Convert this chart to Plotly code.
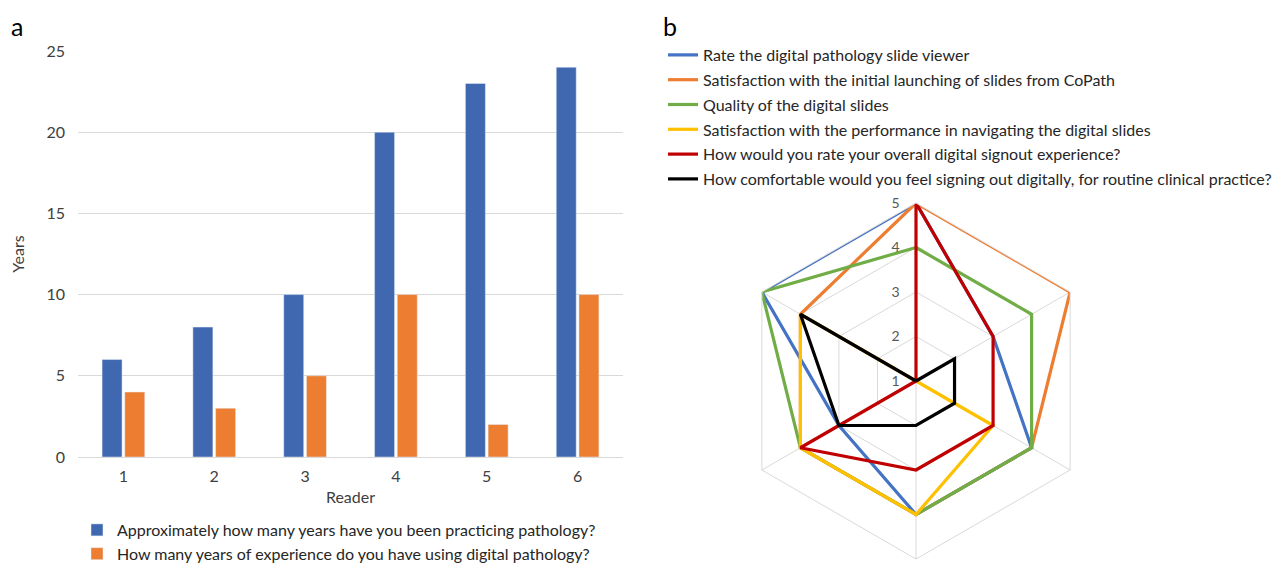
import plotly.graph_objects as go

# ---- data ----
readers = ["1", "2", "3", "4", "5", "6"]
years_practicing = [6, 8, 10, 20, 23, 24]
years_digital = [4, 3, 5, 10, 2, 10]

bar_names = [
    "Approximately how many years have you been practicing pathology?",
    "How many years of experience do you have using digital pathology?",
]

radar_axes = ["1", "2", "3", "4", "5", "6"]
rate_viewer = [5, 3, 4, 4, 3, 5]
launching = [5, 5, 4, 4, 4, 4]
quality = [4, 4, 4, 4, 4, 5]
navigating = [1, 1, 3, 4, 4, 4]
overall = [5, 3, 3, 3, 4, 1]
comfortable = [1, 2, 2, 2, 3, 4]

radar_names = [
    "Rate the digital pathology slide viewer",
    "Satisfaction with the initial launching of slides from CoPath",
    "Quality of the digital slides",
    "Satisfaction with the performance in navigating the digital slides",
    "How would you rate your overall digital signout experience?",
    "How comfortable would you feel signing out digitally, for routine clinical practice?",
]
radar_series = [rate_viewer, launching, quality, navigating, overall, comfortable]
radar_colors = ["#4472C4", "#ED7D31", "#70AD47", "#FFC000", "#C00000", "#000000"]

FONT = "Lato"
OFF = 8  # page body margin
W, H = 1288 - OFF, 565 - OFF

fig = go.Figure()

fig.add_trace(go.Bar(x=readers, y=years_practicing, name=bar_names[0],
                     marker_color="#3F68B1", legend="legend", legendgroup="b1"))
fig.add_trace(go.Bar(x=readers, y=years_digital, name=bar_names[1],
                     marker_color="#ED7D31", legend="legend", legendgroup="b2"))

for i, (vals, nm, col) in enumerate(zip(radar_series, radar_names, radar_colors)):
    fig.add_trace(go.Scatterpolar(
        r=vals + vals[:1], theta=radar_axes + radar_axes[:1], name=nm,
        mode="lines", line=dict(color=col, width=3.2), subplot="polar",
        legend="legend2", legendgroup="r%d" % i))


def px_x(p):
    return (p - OFF) / W


def px_y(p):
    return 1 - (p - OFF) / H


fig.update_layout(
    width=W, height=H,
    margin=dict(l=0, r=0, t=0, b=0, autoexpand=False),
    paper_bgcolor="white", plot_bgcolor="white",
    font=dict(family=FONT, size=16, color="#262626"),
    barmode="group", bargap=0.5, bargroupgap=0.12,
    xaxis=dict(domain=[px_x(78), px_x(623)], type="category", automargin=False,
               title=dict(text="Reader", font=dict(size=16, color="#404040"), standoff=7),
               tickfont=dict(size=16, color="#404040"), showline=False, ticks="",
               ticklabelstandoff=8, showgrid=False),
    yaxis=dict(domain=[px_y(457), px_y(51)], range=[0, 25], dtick=5, automargin=False,
               title=dict(text="Years", font=dict(size=16, color="#404040"), standoff=35),
               tickfont=dict(size=16, color="#404040"), gridcolor="#D9D9D9",
               zeroline=True, zerolinecolor="#D9D9D9", zerolinewidth=1, ticks="",
               ticklabelstandoff=12, showline=False),
    polar=dict(
        domain=dict(x=[px_x(738), px_x(1094)], y=[px_y(559), px_y(203)]),
        bgcolor="white",
        gridshape="linear",
        radialaxis=dict(range=[1, 5], dtick=1, angle=90, tickangle=90,
                        side="counterclockwise",
                        showline=False, gridcolor="#D9D9D9",
                        ticks="outside", ticklen=11, tickcolor="rgba(0,0,0,0)",
                        tickfont=dict(size=14, color="#595959")),
        angularaxis=dict(direction="clockwise", rotation=90, showticklabels=False,
                         ticks="", showline=True, linecolor="#D9D9D9",
                         gridcolor="#D9D9D9"),
    ),
    legend=dict(x=px_x(77), y=px_y(513), xanchor="left", yanchor="top",
                orientation="v", font=dict(size=16, color="#262626"),
                tracegroupgap=0, bgcolor="rgba(0,0,0,0)"),
    legend2=dict(x=px_x(663), y=px_y(38), xanchor="left", yanchor="top",
                 orientation="v", font=dict(size=16, color="#262626"),
                 tracegroupgap=1, bgcolor="rgba(0,0,0,0)"),
    annotations=[
        dict(text="a", x=px_x(9), y=px_y(9), xref="paper", yref="paper",
             xanchor="left", yanchor="top", showarrow=False,
             font=dict(size=25, color="black", family=FONT)),
        dict(text="b", x=px_x(661), y=px_y(9), xref="paper", yref="paper",
             xanchor="left", yanchor="top", showarrow=False,
             font=dict(size=25, color="black", family=FONT)),
    ],
)

fig.write_html("out.html")
